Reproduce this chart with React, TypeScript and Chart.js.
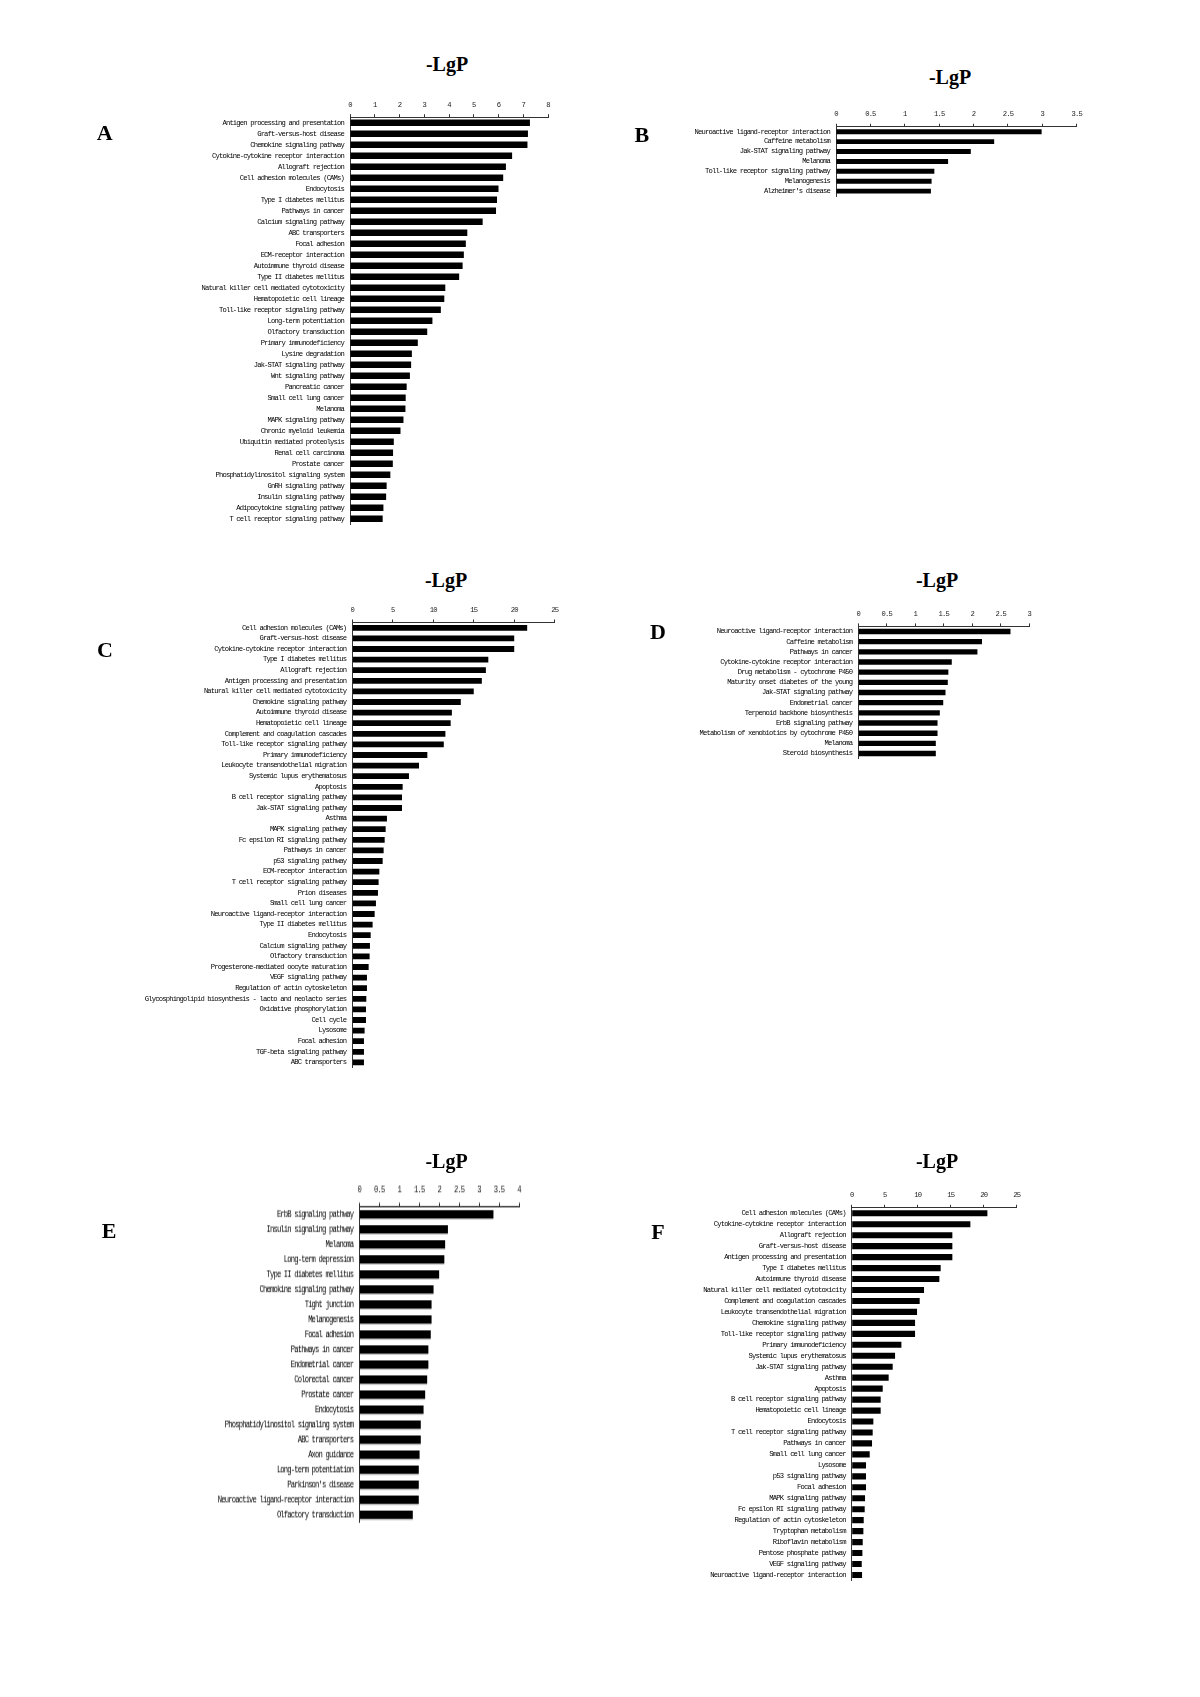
import React, { useEffect, useRef } from "react";
import { Chart, registerables } from "chart.js";
Chart.register(...registerables);

// ---------------- DATA ----------------
const labelsA = [
  "Antigen processing and presentation", "Graft-versus-host disease", "Chemokine signaling pathway",
  "Cytokine-cytokine receptor interaction", "Allograft rejection", "Cell adhesion molecules (CAMs)",
  "Endocytosis", "Type I diabetes mellitus", "Pathways in cancer", "Calcium signaling pathway",
  "ABC transporters", "Focal adhesion", "ECM-receptor interaction", "Autoimmune thyroid disease",
  "Type II diabetes mellitus", "Natural killer cell mediated cytotoxicity", "Hematopoietic cell lineage",
  "Toll-like receptor signaling pathway", "Long-term potentiation", "Olfactory transduction",
  "Primary immunodeficiency", "Lysine degradation", "Jak-STAT signaling pathway", "Wnt signaling pathway",
  "Pancreatic cancer", "Small cell lung cancer", "Melanoma", "MAPK signaling pathway",
  "Chronic myeloid leukemia", "Ubiquitin mediated proteolysis", "Renal cell carcinoma", "Prostate cancer",
  "Phosphatidylinositol signaling system", "GnRH signaling pathway", "Insulin signaling pathway",
  "Adipocytokine signaling pathway", "T cell receptor signaling pathway",
];
const valuesA = [
  7.27, 7.19, 7.17, 6.55, 6.3, 6.19, 6.0, 5.94, 5.9, 5.36, 4.74, 4.68, 4.6, 4.55, 4.41, 3.85, 3.81, 3.67,
  3.33, 3.12, 2.74, 2.5, 2.47, 2.42, 2.29, 2.25, 2.24, 2.16, 2.04, 1.77, 1.74, 1.73, 1.63, 1.48, 1.46, 1.35, 1.32,
];

const labelsB = [
  "Neuroactive ligand-receptor interaction", "Caffeine metabolism", "Jak-STAT signaling pathway",
  "Melanoma", "Toll-like receptor signaling pathway", "Melanogenesis", "Alzheimer's disease",
];
const valuesB = [2.99, 2.3, 1.96, 1.63, 1.43, 1.39, 1.38];

const labelsC = [
  "Cell adhesion molecules (CAMs)", "Graft-versus-host disease", "Cytokine-cytokine receptor interaction",
  "Type I diabetes mellitus", "Allograft rejection", "Antigen processing and presentation",
  "Natural killer cell mediated cytotoxicity", "Chemokine signaling pathway", "Autoimmune thyroid disease",
  "Hematopoietic cell lineage", "Complement and coagulation cascades", "Toll-like receptor signaling pathway",
  "Primary immunodeficiency", "Leukocyte transendothelial migration", "Systemic lupus erythematosus",
  "Apoptosis", "B cell receptor signaling pathway", "Jak-STAT signaling pathway", "Asthma",
  "MAPK signaling pathway", "Fc epsilon RI signaling pathway", "Pathways in cancer", "p53 signaling pathway",
  "ECM-receptor interaction", "T cell receptor signaling pathway", "Prion diseases", "Small cell lung cancer",
  "Neuroactive ligand-receptor interaction", "Type II diabetes mellitus", "Endocytosis",
  "Calcium signaling pathway", "Olfactory transduction", "Progesterone-mediated oocyte maturation",
  "VEGF signaling pathway", "Regulation of actin cytoskeleton",
  "Glycosphingolipid biosynthesis - lacto and neolacto series", "Oxidative phosphorylation", "Cell cycle",
  "Lysosome", "Focal adhesion", "TGF-beta signaling pathway", "ABC transporters",
];
const valuesC = [
  21.6, 20.0, 20.0, 16.8, 16.5, 16.0, 15.0, 13.4, 12.3, 12.15, 11.5, 11.3, 9.27, 8.24, 7.0, 6.22, 6.14, 6.14,
  4.28, 4.12, 4.0, 3.87, 3.75, 3.34, 3.25, 3.17, 2.92, 2.76, 2.51, 2.27, 2.18, 2.14, 2.02, 1.81, 1.81, 1.73,
  1.69, 1.69, 1.52, 1.44, 1.44, 1.44,
];

const labelsD = [
  "Neuroactive ligand-receptor interaction", "Caffeine metabolism", "Pathways in cancer",
  "Cytokine-cytokine receptor interaction", "Drug metabolism - cytochrome P450",
  "Maturity onset diabetes of the young", "Jak-STAT signaling pathway", "Endometrial cancer",
  "Terpenoid backbone biosynthesis", "ErbB signaling pathway",
  "Metabolism of xenobiotics by cytochrome P450", "Melanoma", "Steroid biosynthesis",
];
const valuesD = [2.67, 2.17, 2.09, 1.64, 1.58, 1.57, 1.53, 1.49, 1.43, 1.39, 1.39, 1.36, 1.36];

const labelsE = [
  "ErbB signaling pathway", "Insulin signaling pathway", "Melanoma", "Long-term depression",
  "Type II diabetes mellitus", "Chemokine signaling pathway", "Tight junction", "Melanogenesis",
  "Focal adhesion", "Pathways in cancer", "Endometrial cancer", "Colorectal cancer", "Prostate cancer",
  "Endocytosis", "Phosphatidylinositol signaling system", "ABC transporters", "Axon guidance",
  "Long-term potentiation", "Parkinson's disease", "Neuroactive ligand-receptor interaction",
  "Olfactory transduction",
];
const valuesE = [
  3.36, 2.22, 2.15, 2.13, 2.0, 1.86, 1.81, 1.81, 1.79, 1.73, 1.73, 1.7, 1.65, 1.61, 1.54, 1.54, 1.51, 1.49,
  1.49, 1.49, 1.34,
];

const labelsF = [
  "Cell adhesion molecules (CAMs)", "Cytokine-cytokine receptor interaction", "Allograft rejection",
  "Graft-versus-host disease", "Antigen processing and presentation", "Type I diabetes mellitus",
  "Autoimmune thyroid disease", "Natural killer cell mediated cytotoxicity",
  "Complement and coagulation cascades", "Leukocyte transendothelial migration",
  "Chemokine signaling pathway", "Toll-like receptor signaling pathway", "Primary immunodeficiency",
  "Systemic lupus erythematosus", "Jak-STAT signaling pathway", "Asthma", "Apoptosis",
  "B cell receptor signaling pathway", "Hematopoietic cell lineage", "Endocytosis",
  "T cell receptor signaling pathway", "Pathways in cancer", "Small cell lung cancer", "Lysosome",
  "p53 signaling pathway", "Focal adhesion", "MAPK signaling pathway", "Fc epsilon RI signaling pathway",
  "Regulation of actin cytoskeleton", "Tryptophan metabolism", "Riboflavin metabolism",
  "Pentose phosphate pathway", "VEGF signaling pathway", "Neuroactive ligand-receptor interaction",
];
const valuesF = [
  20.56, 17.98, 15.25, 15.25, 15.25, 13.48, 13.28, 10.96, 10.3, 9.9, 9.6, 9.6, 7.53, 6.57, 6.21, 5.6, 4.7,
  4.39, 4.39, 3.28, 3.18, 3.08, 2.73, 2.17, 2.17, 2.17, 2.02, 1.97, 1.82, 1.77, 1.67, 1.62, 1.52, 1.57,
];

const axisMaxA = 8, axisStepA = 1;
const axisMaxB = 3.5, axisStepB = 0.5;
const axisMaxC = 25, axisStepC = 5;
const axisMaxD = 3, axisStepD = 0.5;
const axisMaxE = 4, axisStepE = 0.5;
const axisMaxF = 25, axisStepF = 5;

const axisTitle = "-LgP";

// ---------------- LAYOUT ----------------
type PanelCfg = {
  labels: string[]; values: number[]; max: number; stepSize: number;
  left: number; x0: number; x1: number; top: number; step: number; k: number; bar: number;
};

const panels: PanelCfg[] = [
  { labels: labelsA, values: valuesA, max: axisMaxA, stepSize: axisStepA, left: 0, x0: 350, x1: 548, top: 117.2, step: 11, k: 1, bar: 0.6 },
  { labels: labelsB, values: valuesB, max: axisMaxB, stepSize: axisStepB, left: 600, x0: 836, x1: 1076.7, top: 126.75, step: 9.9, k: 1, bar: 0.5 },
  { labels: labelsC, values: valuesC, max: axisMaxC, stepSize: axisStepC, left: 0, x0: 352.3, x1: 554.7, top: 622.5, step: 10.6, k: 1, bar: 0.55 },
  { labels: labelsD, values: valuesD, max: axisMaxD, stepSize: axisStepD, left: 600, x0: 858.3, x1: 1029.3, top: 626.4, step: 10.17, k: 1, bar: 0.53 },
  { labels: labelsE, values: valuesE, max: axisMaxE, stepSize: axisStepE, left: 0, x0: 359.3, x1: 519, top: 1206.8, step: 15.03, k: 1.366, bar: 0.58 },
  { labels: labelsF, values: valuesF, max: axisMaxF, stepSize: axisStepF, left: 600, x0: 851.7, x1: 1016.7, top: 1207.8, step: 10.96, k: 1, bar: 0.56 },
];

const titlePos = [
  { x: 447, top: 54 }, { x: 950, top: 67 }, { x: 446, top: 570 },
  { x: 937, top: 570 }, { x: 446.5, top: 1150.5 }, { x: 937, top: 1150.5 },
];
const letterPos = [
  { t: "A", left: 96.7, top: 122.3 }, { t: "B", left: 634.5, top: 124.3 }, { t: "C", left: 97, top: 639.3 },
  { t: "D", left: 650, top: 621.3 }, { t: "E", left: 101.7, top: 1220.3 }, { t: "F", left: 651.3, top: 1221.3 },
];

const tightText = {
  id: "tightText",
  beforeDraw(chart: any) {
    try { chart.ctx.letterSpacing = "-0.84px"; } catch (e) { /* ignore */ }
  },
};

function BarPanel({ cfg }: { cfg: PanelCfg }) {
  const ref = useRef<HTMLCanvasElement | null>(null);
  const n = cfg.labels.length;
  const W = Math.ceil(cfg.x1 - cfg.left + 15);
  const padRight = W - (cfg.x1 - cfg.left);
  const yW = cfg.x0 - cfg.left;
  const T = Math.floor(cfg.top - 30 * cfg.k);
  const hx = (cfg.top - T) / cfg.k;
  const areaH = (n * cfg.step) / cfg.k;
  const H = Math.ceil(hx + areaH + 14);
  const padBottom = H - hx - areaH;

  useEffect(() => {
    const canvas = ref.current;
    if (!canvas) return;
    const font = { family: "'Liberation Mono', 'DejaVu Sans Mono', monospace", size: 7.2 };
    const chart = new Chart(canvas, {
      type: "bar",
      data: {
        labels: cfg.labels,
        datasets: [{
          data: cfg.values, backgroundColor: "#000", borderWidth: 0,
          barPercentage: cfg.bar, categoryPercentage: 1,
        }],
      },
      options: {
        indexAxis: "y",
        responsive: false,
        animation: false,
        events: [],
        layout: { autoPadding: false, padding: { left: 0, top: 0, right: padRight, bottom: padBottom } },
        plugins: { legend: { display: false }, tooltip: { enabled: false }, title: { display: false } },
        scales: {
          x: {
            type: "linear", position: "top", min: 0, max: cfg.max,
            ticks: {
              stepSize: cfg.stepSize, font, color: "#222", padding: 5, maxRotation: 0, autoSkip: false,
              callback: (v: any) => String(v),
            },
            grid: { drawOnChartArea: false, drawTicks: true, tickLength: 3, color: "#333", lineWidth: 1 },
            border: { display: true, color: "#333", width: 1 },
            afterFit: (s: any) => { s.height = hx; },
          },
          y: {
            type: "category", position: "left",
            ticks: { autoSkip: false, font, color: "#000", padding: 6 },
            grid: { display: false, drawTicks: false },
            border: { display: true, color: "#333", width: 1 },
            afterFit: (s: any) => { s.width = yW; },
          },
        },
      } as any,
      plugins: [tightText],
    });
    return () => chart.destroy();
  }, []);

  return (
    <div
      style={{
        position: "absolute", left: cfg.left, top: T, width: W, height: H,
        transform: cfg.k !== 1 ? `scaleY(${cfg.k})` : undefined, transformOrigin: "0 0",
      }}
    >
      <canvas ref={ref} width={W} height={H} style={{ width: W, height: H, display: "block" }} />
    </div>
  );
}

export default function App() {
  return (
    <div style={{ position: "absolute", left: 0, top: 0, width: 1200, height: 1697, background: "#fff", overflow: "hidden" }}>
      {panels.map((p, i) => <BarPanel key={i} cfg={p} />)}
      {titlePos.map((t, i) => (
        <div key={"t" + i} style={{
          position: "absolute", left: t.x - 60, top: t.top, width: 120, textAlign: "center",
          fontFamily: "'Liberation Serif', 'Times New Roman', serif", fontWeight: "bold",
          fontSize: 20, lineHeight: "20px", color: "#000", whiteSpace: "nowrap",
        }}>{axisTitle}</div>
      ))}
      {letterPos.map((l, i) => (
        <div key={"l" + i} style={{
          position: "absolute", left: l.left, top: l.top,
          fontFamily: "'Liberation Serif', 'Times New Roman', serif", fontWeight: "bold",
          fontSize: 22, lineHeight: "22px", color: "#000",
        }}>{l.t}</div>
      ))}
    </div>
  );
}
